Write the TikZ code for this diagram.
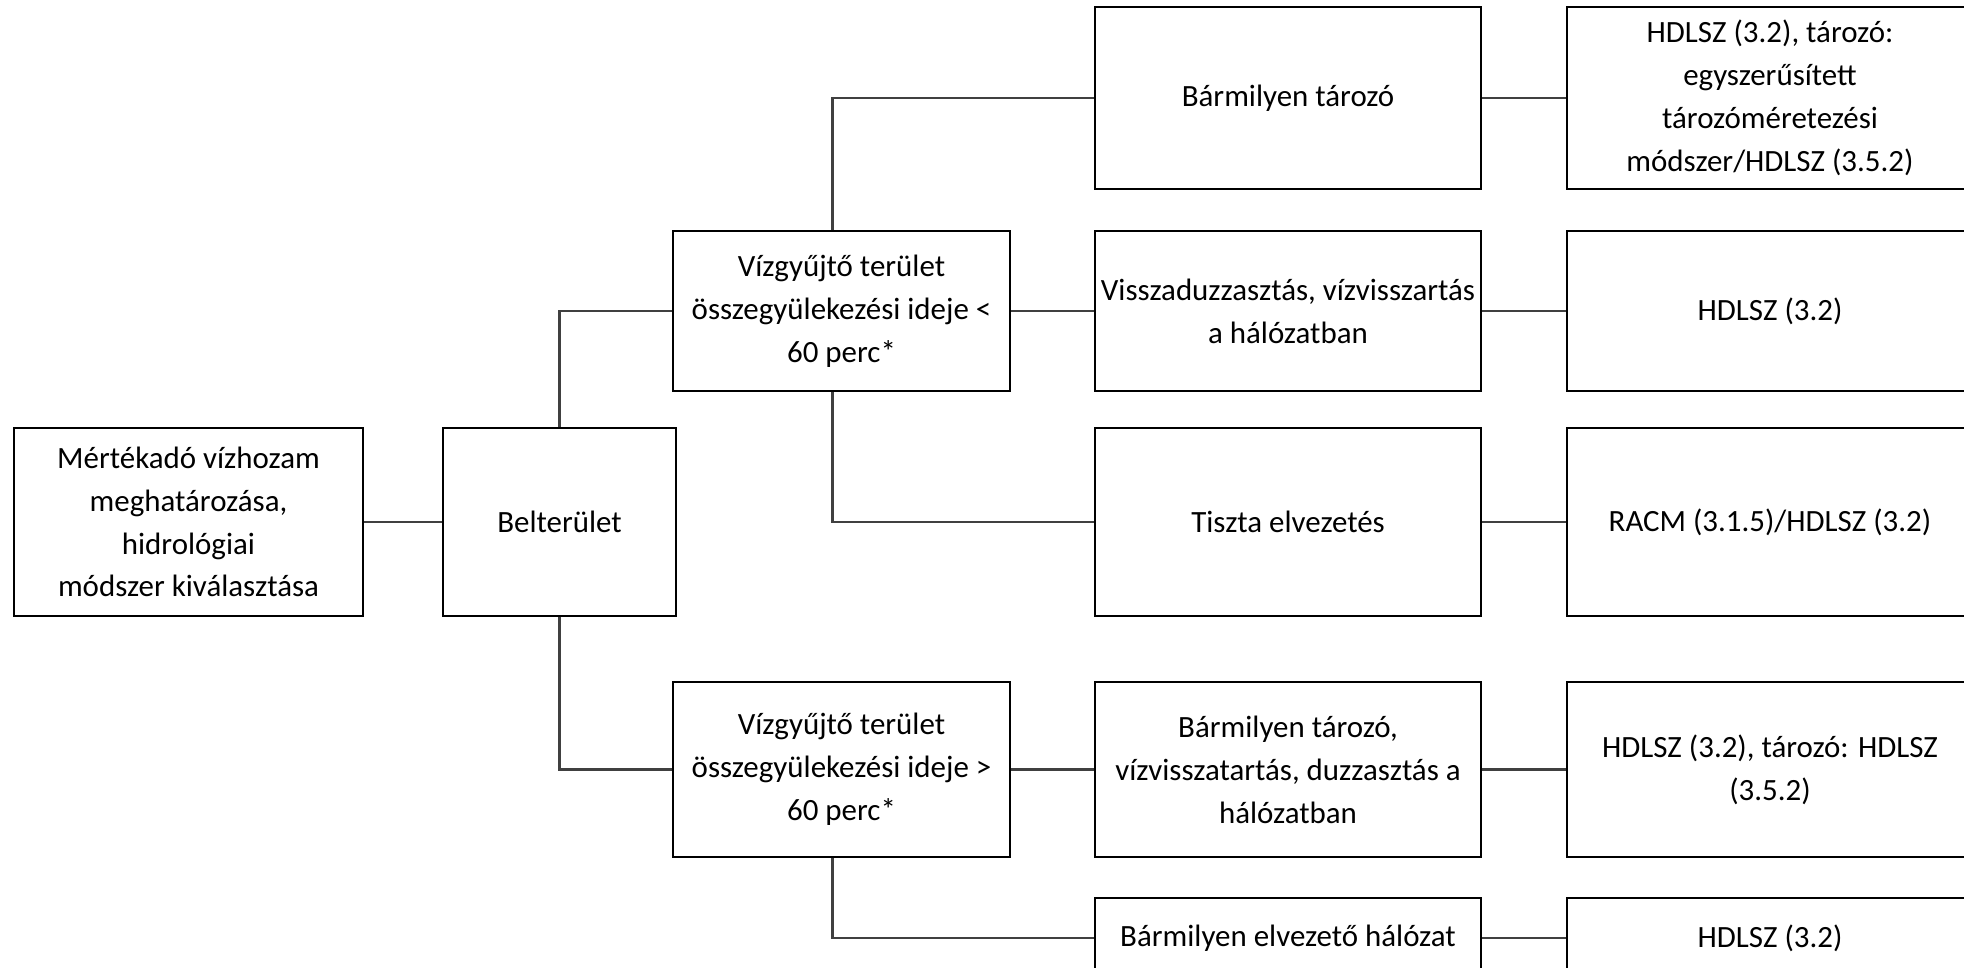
\documentclass[tikz,border=0pt]{standalone}
\usepackage{fontspec}
\setmainfont{Carlito}
\usetikzlibrary{positioning}
\tikzset{
box/.style 2 args={draw, line width=0.8pt, align=center, inner sep=1pt,
	minimum width=#1, minimum height=#2, font=\fontsize{8.8}{12.2}\selectfont},
}

\begin{document}
\begin{tikzpicture}
\tikzstyle{link}=[line width=0.7pt, black!75]
\useasboundingbox (0,0) rectangle (19.64,-9.67);
%Place the nodes
\node[box={3.49cm}{1.88cm}] (start) at (1.885,-5.22) {Mértékadó vízhozam\\meghatározása,\\hidrológiai\\módszer kiválasztása};
\node[box={2.33cm}{1.88cm}] (belter) at (5.595,-5.22) {Belterület};

\node[box={3.37cm}{1.60cm}] (short) at (8.415,-3.11) {Vízgyűjtő terület\\összegyülekezési ideje <\\60 perc*};
\node[box={3.37cm}{1.75cm}] (long) at (8.415,-7.695) {Vízgyűjtő terület\\összegyülekezési ideje >\\60 perc*};

\node[box={3.86cm}{1.82cm}] (d1) at (12.88,-0.98) {Bármilyen tározó};
\node[box={3.86cm}{1.60cm}] (d2) at (12.88,-3.11) {Visszaduzzasztás, vízvisszartás\\a hálózatban};
\node[box={3.86cm}{1.88cm}] (d3) at (12.88,-5.22) {Tiszta elvezetés};
\node[box={3.86cm}{1.75cm}] (d4) at (12.88,-7.695) {Bármilyen tározó,\\vízvisszatartás, duzzasztás a\\hálózatban};
\node[box={3.86cm}{0.80cm}] (d5) at (12.88,-9.38) {Bármilyen elvezető hálózat};

\node[box={4.06cm}{1.82cm}] (e1) at (17.70,-0.98) {HDLSZ (3.2), tározó:\\egyszerűsített\\tározóméretezési\\módszer/HDLSZ (3.5.2)};
\node[box={4.06cm}{1.60cm}] (e2) at (17.70,-3.11) {HDLSZ (3.2)};
\node[box={4.06cm}{1.88cm}] (e3) at (17.70,-5.22) {RACM (3.1.5)/HDLSZ (3.2)};
\node[box={4.06cm}{1.75cm}] (e4) at (17.70,-7.695) {HDLSZ (3.2), tározó: HDLSZ\\(3.5.2)};
\node[box={4.06cm}{0.80cm}] (e5) at (17.70,-9.38) {HDLSZ (3.2)};

%
\draw[link] (start) to (belter);
\draw[link] (belter.north) |- (short.west);
\draw[link] (belter.south) |- (long.west);

%
\draw[link] ([xshift=-0.09cm]short.north) |- (d1.west);
\draw[link] (short) to (d2);
\draw[link] ([xshift=-0.09cm]short.south) |- (d3.west);
\draw[link] (long) to (d4);
\draw[link] ([xshift=-0.09cm]long.south) |- (d5.west);

%
\foreach \r in {1,...,5} {
	\draw[link] (d\r) to (e\r);
}
\end{tikzpicture}
\end{document}
